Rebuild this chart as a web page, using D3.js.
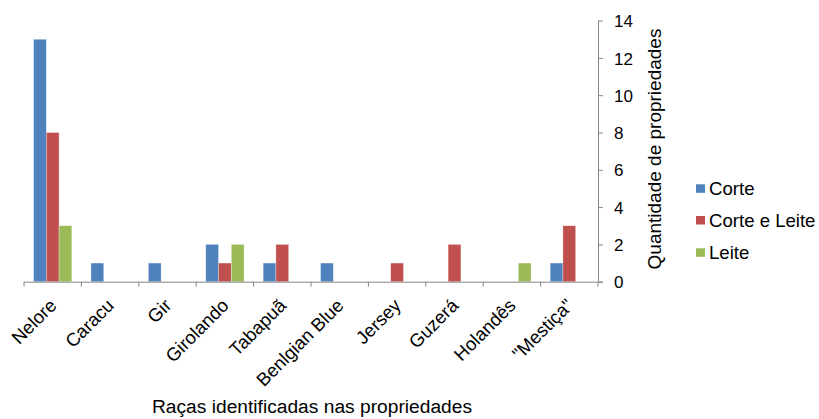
<!DOCTYPE html>
<html><head><meta charset="utf-8">
<script src="https://cdn.jsdelivr.net/npm/d3@7"></script>
<style>body{margin:0;background:#fff}svg{display:block}text{font-family:"Liberation Sans",Arial,sans-serif;fill:#000}</style>
</head><body><svg id="c" width="819" height="419"></svg>
<script>
const categories = ["Nelore","Caracu","Gir","Girolando","Tabapuã","Benlgian Blue","Jersey","Guzerá","Holandês","\"Mestiça\""];
const seriesNames = ["Corte","Corte e Leite","Leite"];
const corte = [13,1,1,2,1,1,0,0,0,1];
const corteELeite = [8,0,0,1,2,0,1,2,0,3];
const leite = [3,0,0,2,0,0,0,0,1,0];
const colors = ["#4F81BD","#C0504D","#9BBB59"];
const yTicks = [0,2,4,6,8,10,12,14];

const svg = d3.select("#c");
const x0 = 24, x1 = 598, yBase = 281.7, yTop = 20.6;
const x = d3.scaleBand().domain(categories).range([x0,x1]).paddingInner(0).paddingOuter(0);
const y = d3.scaleLinear().domain([0,14]).range([yBase,yTop]);
const bw = x.bandwidth()/4.5;
const xs = d3.scaleBand().domain(seriesNames).range([0,3*bw]);
const seriesVals = [corte,corteELeite,leite];

const g = svg.append("g");
seriesNames.forEach((s,si)=>{
  g.selectAll(null).data(seriesVals[si].map((v,i)=>({v,c:categories[i]})).filter(d=>d.v>0))
   .enter().append("rect")
   .attr("x",d=>x(d.c)+0.75*bw+xs(s))
   .attr("y",d=>y(d.v))
   .attr("width",bw)
   .attr("height",d=>y(0)-y(d.v))
   .attr("fill",colors[si])
   .attr("stroke","#fff").attr("stroke-opacity",0.5).attr("stroke-width",0.6);
});

// x axis
const xa = svg.append("g").attr("transform",`translate(0,${yBase})`)
  .call(d3.axisBottom(x).tickSize(0).tickFormat(""));
xa.select(".domain").attr("stroke","#868686").attr("d",`M${x0},0.5H${x1+5}`);
const xtPos = d3.range(categories.length+1).map(i=>x0+i*x.step());
svg.append("g").selectAll("line").data(xtPos).enter().append("line")
  .attr("x1",d=>d).attr("x2",d=>d).attr("y1",yBase).attr("y2",yBase+5)
  .attr("stroke","#868686");

svg.append("g").selectAll("text").data(categories).enter().append("text")
  .attr("transform",d=>`translate(${x(d)+x.bandwidth()/2+5},${yBase+25}) rotate(-45)`)
  .attr("text-anchor","end").attr("font-size","18.5px").text(d=>d);

// y axis right
const ya = svg.append("g").attr("transform",`translate(${x1},0)`)
  .call(d3.axisRight(y).tickValues(yTicks).tickSize(5).tickPadding(11));
ya.select(".domain").attr("stroke","#868686").attr("d",`M0.5,${yTop}V${yBase}`);
ya.selectAll(".tick line").attr("stroke","#868686");
ya.selectAll(".tick text").attr("font-size","17px").attr("dy","0.36em")
  .attr("font-family","Liberation Sans, Arial, sans-serif").attr("fill","#000");

svg.append("text").attr("transform",`translate(660.5,149) rotate(-90)`)
  .attr("text-anchor","middle").attr("font-size","19px").text("Quantidade de propriedades");

svg.append("text").attr("x",312).attr("y",412.5).attr("text-anchor","middle")
  .attr("font-size","19.2px").text("Raças identificadas nas propriedades");

// legend
const lg = svg.append("g");
const legBase = [195.3,227,259.3];
seriesNames.forEach((s,i)=>{
  lg.append("rect").attr("x",696).attr("y",legBase[i]-11).attr("width",9).attr("height",8.5).attr("fill",colors[i]);
  lg.append("text").attr("x",709).attr("y",legBase[i]).attr("font-size","18.6px").text(s);
});
</script></body></html>
